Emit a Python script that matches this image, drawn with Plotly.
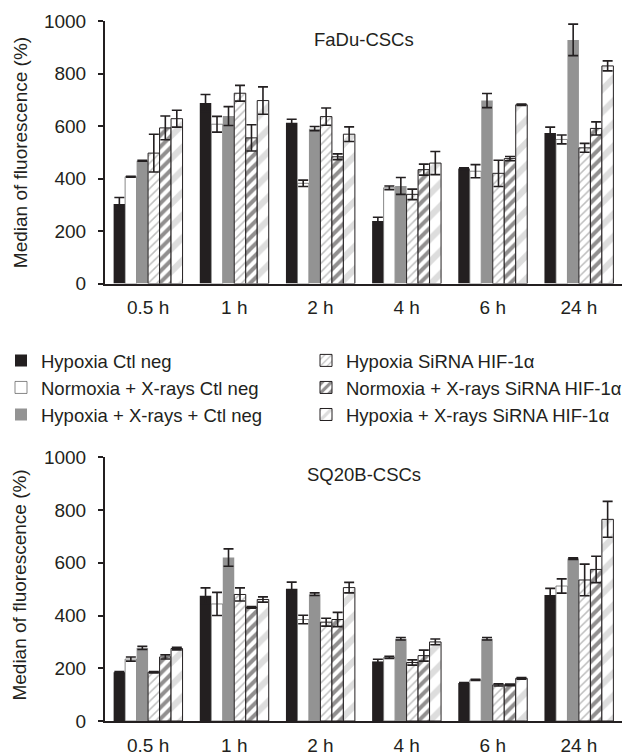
import plotly.graph_objects as go

categories = ["0.5 h", "1 h", "2 h", "4 h", "6 h", "24 h"]

series_names = [
    "Hypoxia Ctl neg",
    "Normoxia + X-rays Ctl neg",
    "Hypoxia + X-rays + Ctl neg",
    "Hypoxia SiRNA HIF-1α",
    "Normoxia + X-rays SiRNA HIF-1α",
    "Hypoxia + X-rays SiRNA HIF-1α",
]

# FaDu-CSCs (top panel)
fadu_hyp_ctl = [303, 688, 613, 238, 438, 574]
fadu_hyp_ctl_err = [25, 32, 13, 15, 3, 22]
fadu_norm_ctl = [407, 607, 382, 365, 428, 549]
fadu_norm_ctl_err = [2, 30, 12, 7, 25, 17]
fadu_hypx_ctl = [468, 638, 590, 372, 697, 928]
fadu_hypx_ctl_err = [2, 36, 8, 32, 27, 60]
fadu_hyp_si = [497, 725, 636, 340, 420, 517]
fadu_hyp_si_err = [72, 30, 33, 20, 50, 17]
fadu_norm_si = [593, 555, 483, 434, 476, 591]
fadu_norm_si_err = [45, 50, 11, 21, 8, 25]
fadu_hypx_si = [628, 697, 569, 459, 681, 829]
fadu_hypx_si_err = [32, 52, 28, 44, 3, 19]

# SQ20B-CSCs (bottom panel)
sq_hyp_ctl = [185, 475, 502, 226, 144, 478]
sq_hyp_ctl_err = [3, 30, 25, 8, 2, 25]
sq_norm_ctl = [235, 444, 385, 241, 156, 512]
sq_norm_ctl_err = [8, 44, 16, 4, 2, 27]
sq_hypx_ctl = [277, 620, 481, 312, 312, 616]
sq_hypx_ctl_err = [6, 33, 5, 5, 5, 3]
sq_hyp_si = [185, 480, 375, 222, 137, 535]
sq_hyp_si_err = [3, 25, 15, 10, 4, 60]
sq_norm_si = [243, 431, 385, 248, 137, 575]
sq_norm_si_err = [8, 3, 27, 21, 3, 50]
sq_hypx_si = [275, 461, 506, 300, 162, 765]
sq_hypx_si_err = [5, 10, 20, 11, 3, 68]

panel_titles = ["FaDu-CSCs", "SQ20B-CSCs"]
y_title = "Median of fluorescence (%)"
y_ticks = [0, 200, 400, 600, 800, 1000]

INK = "#231f20"
FONT = "Liberation Sans, Arial, Helvetica, sans-serif"

styles = [
    dict(color=INK, line=dict(width=0)),
    dict(color="white", line=dict(width=0.7, color="#555555")),
    dict(color="#939393", line=dict(width=0)),
    dict(color="white", line=dict(width=1, color=INK),
         pattern=dict(shape="/", fgcolor="#7d7d7d", bgcolor="white", size=6, solidity=0.25)),
    dict(color="white", line=dict(width=1, color=INK),
         pattern=dict(shape="/", fgcolor=INK, bgcolor="white", size=8, solidity=0.5)),
    dict(color="white", line=dict(width=1, color=INK),
         pattern=dict(shape="/", fgcolor="#bcbcbc", bgcolor="white", size=16, solidity=0.4)),
]

fadu = [
    (fadu_hyp_ctl, fadu_hyp_ctl_err), (fadu_norm_ctl, fadu_norm_ctl_err),
    (fadu_hypx_ctl, fadu_hypx_ctl_err), (fadu_hyp_si, fadu_hyp_si_err),
    (fadu_norm_si, fadu_norm_si_err), (fadu_hypx_si, fadu_hypx_si_err),
]
sq = [
    (sq_hyp_ctl, sq_hyp_ctl_err), (sq_norm_ctl, sq_norm_ctl_err),
    (sq_hypx_ctl, sq_hypx_ctl_err), (sq_hyp_si, sq_hyp_si_err),
    (sq_norm_si, sq_norm_si_err), (sq_hypx_si, sq_hypx_si_err),
]

fig = go.Figure()
legend_ids = ["legend", "legend", "legend", "legend2", "legend2", "legend2"]

for panel, data in enumerate([fadu, sq]):
    xa = "x" if panel == 0 else "x2"
    ya = "y" if panel == 0 else "y2"
    for i, (vals, errs) in enumerate(data):
        fig.add_trace(go.Bar(
            x=categories, y=vals, name=series_names[i],
            xaxis=xa, yaxis=ya,
            marker=styles[i],
            error_y=dict(type="data", array=errs, color=INK, thickness=1.6, width=5),
            showlegend=(panel == 0),
            legend=legend_ids[i],
            legendgroup=series_names[i],
        ))

W, H = 627, 756
ml, mr, mt, mb = 105, 0, 21, 26
pw = W - ml - mr
ph = H - mt - mb

axis_common = dict(
    showline=True, linecolor=INK, linewidth=2, showgrid=False, zeroline=False,
    tickfont=dict(family=FONT, size=19, color=INK),
)

fig.update_layout(
    width=W, height=H,
    margin=dict(l=ml, r=mr, t=mt, b=mb),
    paper_bgcolor="white", plot_bgcolor="white",
    barmode="group", bargap=0.2, bargroupgap=0,
    font=dict(family=FONT, size=19, color=INK),
    xaxis=dict(anchor="y", domain=[0, 1], ticks="", ticklabelstandoff=6, **axis_common),
    yaxis=dict(anchor="x", domain=[1 - 266 / ph, 1], range=[0, 1000], tickvals=y_ticks,
               ticks="outside", ticklen=5, tickwidth=1.5, tickcolor=INK,
               ticklabelstandoff=8, **axis_common),
    xaxis2=dict(anchor="y2", domain=[0, 1], ticks="", ticklabelstandoff=6, **axis_common),
    yaxis2=dict(anchor="x2", domain=[0, 267 / ph], range=[0, 1000], tickvals=y_ticks,
                ticks="outside", ticklen=5, tickwidth=1.5, tickcolor=INK,
                ticklabelstandoff=8, **axis_common),
    legend=dict(x=-ml / pw, y=1 - (346 - mt) / ph, xanchor="left", yanchor="top",
                font=dict(family=FONT, size=18.5, color=INK), bgcolor="rgba(0,0,0,0)",
                traceorder="normal"),
    legend2=dict(x=(308 - ml) / pw, y=1 - (346 - mt) / ph, xanchor="left", yanchor="top",
                 font=dict(family=FONT, size=18.5, color=INK), bgcolor="rgba(0,0,0,0)",
                 traceorder="normal"),
)

annotations = [
    dict(text=panel_titles[0], x=2.5, y=930, xref="x", yref="y", showarrow=False,
         font=dict(family=FONT, size=18.5, color=INK)),
    dict(text=panel_titles[1], x=2.5, y=935, xref="x2", yref="y2", showarrow=False,
         font=dict(family=FONT, size=18.5, color=INK)),
    dict(text=y_title, textangle=-90, x=(19 - ml) / pw, y=1 - (154 - mt) / ph,
         xref="paper", yref="paper", showarrow=False, xanchor="center", yanchor="middle",
         font=dict(family=FONT, size=19, color=INK)),
    dict(text=y_title, textangle=-90, x=(19 - ml) / pw, y=1 - (592 - mt) / ph,
         xref="paper", yref="paper", showarrow=False, xanchor="center", yanchor="middle",
         font=dict(family=FONT, size=19, color=INK)),
]
fig.update_layout(annotations=annotations)

fig.write_html("out.html")
